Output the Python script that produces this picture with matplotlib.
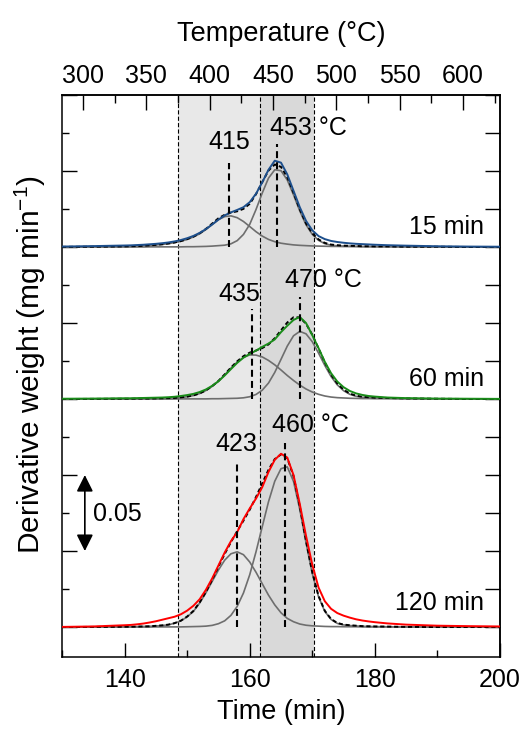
import numpy as np
import matplotlib
matplotlib.use("Agg")
import matplotlib.pyplot as plt
from matplotlib.ticker import MultipleLocator, NullFormatter

plt.rcParams['font.family'] = ['Liberation Sans', 'DejaVu Sans']
plt.rcParams['mathtext.fontset'] = 'custom'
plt.rcParams['mathtext.rm'] = 'Liberation Sans'
plt.rcParams['lines.scale_dashes'] = False

# time grid (min)
time_min = [130, 135, 140, 141, 142, 143, 144, 145, 146, 147, 148, 149,
            150, 151, 152, 153, 154, 155, 156, 157, 158, 159,
            160, 161, 162, 163, 164, 165, 166, 167, 168, 169,
            170, 171, 172, 173, 174, 175, 176, 177, 178, 179,
            180, 182, 185, 190, 195, 200]

# 15 min sample: measured DTG and two fitted components
exp_15 = [0.0003, 0.0006, 0.0010, 0.0011, 0.0013, 0.0015, 0.0018, 0.0021, 0.0025, 0.0030, 0.0037, 0.0046,
          0.0058, 0.0073, 0.0093, 0.0118, 0.0148, 0.0180, 0.0208, 0.0228, 0.0244, 0.0262,
          0.0295, 0.0350, 0.0425, 0.0508, 0.0568, 0.0555, 0.0478, 0.0370, 0.0262, 0.0172,
          0.0110, 0.0072, 0.0052, 0.0040, 0.0033, 0.0028, 0.0024, 0.0021, 0.0019, 0.0017,
          0.0015, 0.0012, 0.0009, 0.0005, 0.0003, 0.0002]
c1_15 = [0.0001, 0.0002, 0.0004, 0.0005, 0.0006, 0.0008, 0.0010, 0.0013, 0.0017, 0.0022, 0.0029, 0.0038,
         0.0050, 0.0066, 0.0087, 0.0115, 0.0148, 0.0180, 0.0200, 0.0205, 0.0193, 0.0168,
         0.0135, 0.0101, 0.0072, 0.0050, 0.0035, 0.0025, 0.0019, 0.0014, 0.0011, 0.0009,
         0.0007, 0.0006, 0.0005, 0.0004, 0.0004, 0.0003, 0.0003, 0.0003, 0.0002, 0.0002,
         0.0002, 0.0002, 0.0001, 0.0001, 0.0000, 0.0000]
c2_15 = [0.0000, 0.0000, 0.0000, 0.0000, 0.0000, 0.0000, 0.0001, 0.0001, 0.0001, 0.0001, 0.0001, 0.0001,
         0.0002, 0.0002, 0.0003, 0.0004, 0.0006, 0.0009, 0.0012, 0.0021, 0.0042, 0.0083,
         0.0149, 0.0246, 0.0355, 0.0453, 0.0508, 0.0502, 0.0441, 0.0343, 0.0237, 0.0146,
         0.0083, 0.0044, 0.0022, 0.0012, 0.0008, 0.0006, 0.0005, 0.0004, 0.0003, 0.0003,
         0.0002, 0.0002, 0.0001, 0.0001, 0.0000, 0.0000]

# 60 min sample
exp_60 = [0.0002, 0.0003, 0.0005, 0.0005, 0.0006, 0.0007, 0.0008, 0.0009, 0.0010, 0.0012, 0.0015, 0.0020,
          0.0026, 0.0034, 0.0046, 0.0063, 0.0087, 0.0117, 0.0155, 0.0197, 0.0238, 0.0272,
          0.0297, 0.0318, 0.0343, 0.0365, 0.0392, 0.0440, 0.0482, 0.0520, 0.0540, 0.0500,
          0.0420, 0.0335, 0.0245, 0.0170, 0.0115, 0.0078, 0.0053, 0.0037, 0.0027, 0.0020,
          0.0016, 0.0010, 0.0006, 0.0003, 0.0002, 0.0001]
c1_60 = [0.0000, 0.0001, 0.0002, 0.0002, 0.0003, 0.0003, 0.0003, 0.0004, 0.0005, 0.0006, 0.0007, 0.0010,
         0.0015, 0.0023, 0.0036, 0.0056, 0.0083, 0.0117, 0.0159, 0.0203, 0.0243, 0.0274,
         0.0290, 0.0289, 0.0277, 0.0254, 0.0225, 0.0191, 0.0155, 0.0122, 0.0092, 0.0066,
         0.0046, 0.0031, 0.0020, 0.0013, 0.0009, 0.0007, 0.0005, 0.0004, 0.0003, 0.0003,
         0.0002, 0.0002, 0.0001, 0.0001, 0.0000, 0.0000]
c2_60 = [0.0000, 0.0000, 0.0000, 0.0000, 0.0000, 0.0000, 0.0000, 0.0000, 0.0000, 0.0000, 0.0000, 0.0001,
         0.0001, 0.0001, 0.0001, 0.0001, 0.0002, 0.0002, 0.0003, 0.0004, 0.0005, 0.0008,
         0.0015, 0.0030, 0.0058, 0.0105, 0.0175, 0.0261, 0.0348, 0.0416, 0.0445, 0.0429,
         0.0377, 0.0302, 0.0221, 0.0148, 0.0093, 0.0055, 0.0031, 0.0018, 0.0012, 0.0009,
         0.0007, 0.0005, 0.0003, 0.0001, 0.0000, 0.0000]

# 120 min sample
exp_120 = [0.0001, 0.0004, 0.0012, 0.0014, 0.0018, 0.0023, 0.0030, 0.0038, 0.0048, 0.0058, 0.0068, 0.0084,
           0.0108, 0.0140, 0.0183, 0.0245, 0.0320, 0.0405, 0.0490, 0.0565, 0.0625, 0.0710,
           0.0780, 0.0845, 0.0920, 0.1020, 0.1100, 0.1140, 0.1115, 0.1000, 0.0810, 0.0600,
           0.0410, 0.0260, 0.0170, 0.0120, 0.0092, 0.0075, 0.0062, 0.0051, 0.0043, 0.0037,
           0.0032, 0.0024, 0.0016, 0.0009, 0.0006, 0.0004]
c1_120 = [0.0000, 0.0001, 0.0002, 0.0002, 0.0003, 0.0004, 0.0005, 0.0007, 0.0010, 0.0015, 0.0025, 0.0041,
          0.0067, 0.0103, 0.0158, 0.0225, 0.0300, 0.0375, 0.0440, 0.0482, 0.0495, 0.0476,
          0.0428, 0.0361, 0.0285, 0.0210, 0.0146, 0.0094, 0.0057, 0.0035, 0.0020, 0.0012,
          0.0008, 0.0006, 0.0004, 0.0003, 0.0003, 0.0002, 0.0002, 0.0002, 0.0001, 0.0001,
          0.0001, 0.0001, 0.0000, 0.0000, 0.0000, 0.0000]
c2_120 = [0.0000, 0.0000, 0.0000, 0.0000, 0.0000, 0.0000, 0.0000, 0.0001, 0.0001, 0.0001, 0.0001, 0.0001,
          0.0002, 0.0003, 0.0004, 0.0006, 0.0011, 0.0022, 0.0041, 0.0077, 0.0136, 0.0224,
          0.0344, 0.0494, 0.0660, 0.0824, 0.0959, 0.1042, 0.1054, 0.0958, 0.0774, 0.0554,
          0.0352, 0.0199, 0.0103, 0.0050, 0.0024, 0.0014, 0.0010, 0.0007, 0.0005, 0.0004,
          0.0003, 0.0002, 0.0001, 0.0000, 0.0000, 0.0000]

sample_labels = ['15 min', '60 min', '120 min']
peak_times = [[156.7, 164.4], [160.4, 168.1], [157.9, 165.7]]
peak_labels = [['415', '453 °C'], ['435', '470 °C'], ['423', '460 °C']]
region_edges = [148.5, 161.7, 170.3]


def time_to_temp(t):
    return 4.94 * np.asarray(t) - 358.7


def temp_to_time(T):
    return (np.asarray(T) + 358.7) / 4.94


t = np.array(time_min)
panels = [
    (0.25, exp_15, c1_15, c2_15, '#1d4f8c'),
    (0.15, exp_60, c1_60, c2_60, '#1a8c1a'),
    (0.00, exp_120, c1_120, c2_120, '#ff0000'),
]
# heights of the peak marker lines above each baseline, and label spots
line_tops = [[0.055, 0.068], [0.059, 0.067], [0.109, 0.121]]
label_spots = [[(156.75, 0.3188, 'center'), (163.2, 0.3286, 'left')],
               [(158.3, 0.2191, 'center'), (165.6, 0.2283, 'left')],
               [(157.8, 0.1204, 'center'), (163.5, 0.1329, 'left')]]
name_y = [0.2634, 0.1632, 0.0158]

fig = plt.figure(figsize=(5.24, 7.43), dpi=100)
ax = fig.add_axes([62 / 524, 86 / 743, 438 / 524, 562 / 743])

ax.axvspan(region_edges[0], region_edges[1], color='#e8e8e8', lw=0, zorder=0)
ax.axvspan(region_edges[1], region_edges[2], color='#d9d9d9', lw=0, zorder=0)
for e in region_edges:
    ax.axvline(e, color='k', lw=0.8, dashes=(3, 1.6), zorder=1)

for i, (off, exp, c1, c2, col) in enumerate(panels):
    c1 = np.array(c1)
    c2 = np.array(c2)
    ax.plot(t, off + c1, color='#6e6e6e', lw=1.2, zorder=2)
    ax.plot(t, off + c2, color='#6e6e6e', lw=1.2, zorder=2)
    ax.plot(t, off + c1 + c2, color='k', lw=1.4, dashes=(3, 2), zorder=3)
    ax.plot(t, off + np.array(exp), color=col, lw=1.4, zorder=4)
    for pt, top in zip(peak_times[i], line_tops[i]):
        ax.plot([pt, pt], [off, off + top], color='k', lw=1.5, dashes=(5, 3), zorder=5)
    for (x, y, ha), txt in zip(label_spots[i], peak_labels[i]):
        ax.text(x, y, txt, ha=ha, va='center', fontsize=18)
    ax.text(197.4, name_y[i], sample_labels[i], ha='right', va='center', fontsize=18)

# scale bar
ax.annotate('', xy=(133.65, 0.05), xytext=(133.65, 0.10),
            arrowprops=dict(arrowstyle='<|-|>,head_length=0.5,head_width=0.25',
                            color='k', lw=1.2, mutation_scale=20, shrinkA=0, shrinkB=0))
ax.text(135.0, 0.0743, '0.05', ha='left', va='center', fontsize=18)

ax.set_xlim(130, 200)
ax.set_ylim(-0.0197, 0.35)
ax.set_xticks([140, 160, 180, 200])
ax.xaxis.set_minor_locator(MultipleLocator(10))
ax.yaxis.set_major_locator(MultipleLocator(0.05))
ax.yaxis.set_minor_locator(MultipleLocator(0.025))
ax.yaxis.set_major_formatter(NullFormatter())
ax.tick_params(axis='both', which='both', direction='in', top=False, right=False,
               labelsize=18, width=1.0)
ax.tick_params(axis='x', which='major', length=10, pad=8)
ax.tick_params(axis='x', which='minor', length=5)
ax.tick_params(axis='y', which='major', length=11)
ax.tick_params(axis='y', which='minor', length=5)
for s in ax.spines.values():
    s.set_linewidth(1.1)

ax.set_xlabel('Time (min)', fontsize=19.5, va='center')
ax.xaxis.set_label_coords(0.5, -0.098)
ax.set_ylabel('Derivative weight (mg min$^{-1}$)', fontsize=21.5, va='center')
ax.yaxis.set_label_coords(-0.073, 0.521)

secx = ax.secondary_xaxis('top', functions=(time_to_temp, temp_to_time))
secx.set_xticks([300, 350, 400, 450, 500, 550, 600])
secx.xaxis.set_minor_locator(MultipleLocator(25))
secx.tick_params(which='both', direction='in', labelsize=18, width=1.0, pad=5)
secx.tick_params(which='major', length=11)
secx.tick_params(which='minor', length=6)
secx.spines['top'].set_linewidth(1.1)
secx.set_xlabel('Temperature (°C)', fontsize=19.5, labelpad=16.5)

secy = ax.secondary_yaxis('right')
secy.yaxis.set_major_locator(MultipleLocator(0.025))
secy.yaxis.set_major_formatter(NullFormatter())
secy.tick_params(direction='in', length=11, width=1.0)
secy.spines['right'].set_linewidth(1.1)

fig.savefig('out.png', dpi=100)
